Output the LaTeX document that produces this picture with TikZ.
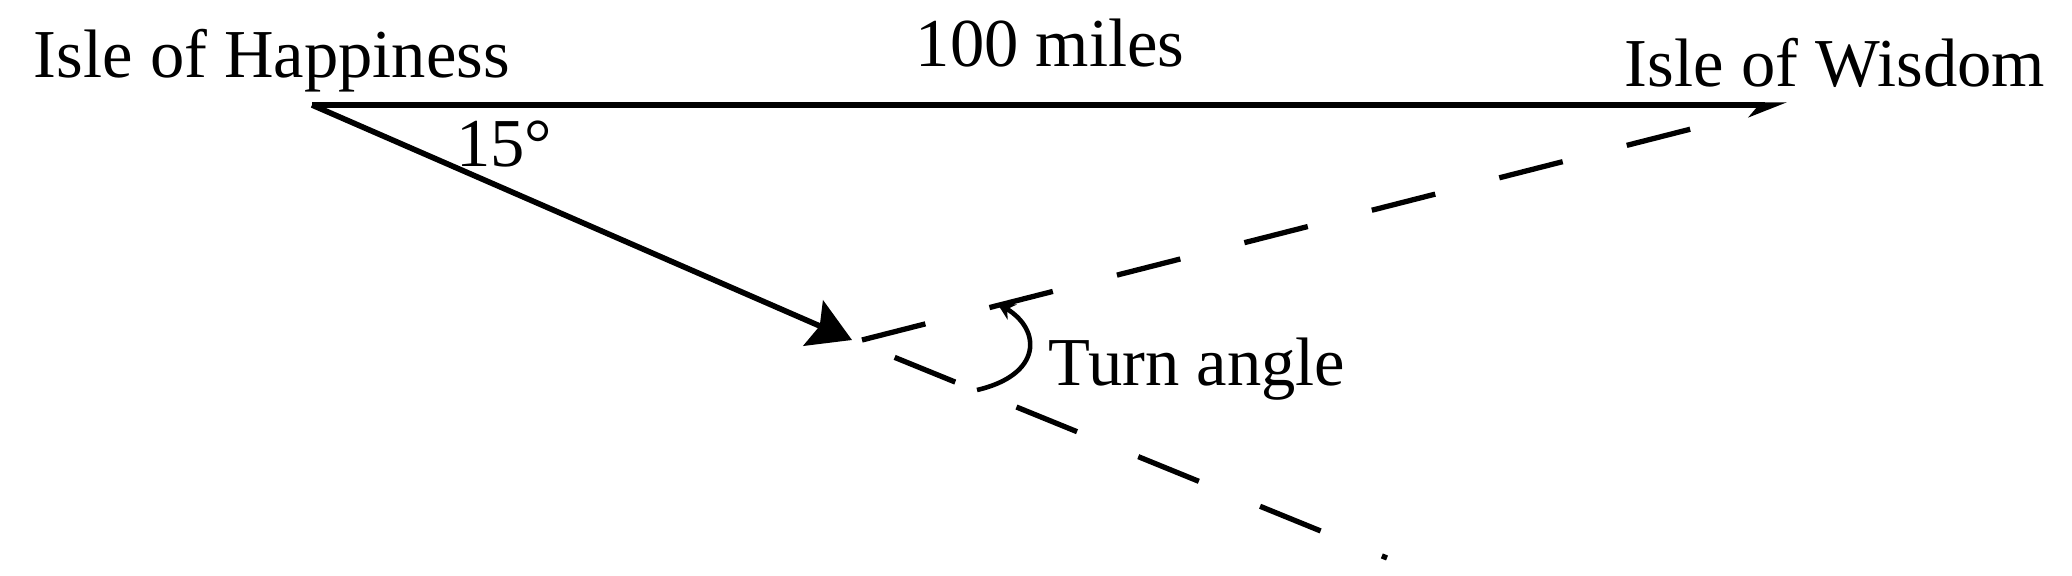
\documentclass[tikz,border=0pt]{standalone}
\usepackage{fontspec}
\setmainfont{Liberation Serif}
\usepackage{tikz}
\usetikzlibrary{arrows.meta}

\begin{document}
\begin{tikzpicture}
[x=0.01cm, y=-0.01cm,
 place/.style={anchor=base,inner sep=0pt,font=\fontsize{19.5}{23}\selectfont},
 course/.style={line width=1.6pt},
 track/.style={line width=1.5pt, dash pattern=on 18.6pt off 18.8pt},
 turn/.style={line width=1.3pt, -{Stealth[length=5pt,width=5pt]}}]
\useasboundingbox (0,0) rectangle (2072,576);
\coordinate (H)     at ( 312, 105);
\coordinate (W)     at (1787, 105);
\coordinate (T)     at ( 852, 340);
\coordinate (Tout)  at ( 862, 340);
\coordinate (Wend)  at (1695, 128);
\coordinate (Tend)  at (1387, 558);
\coordinate (arcA)  at ( 977, 390);
\coordinate (arcB)  at ( 997, 303);
\node[place] (happy) at ( 272,  78) {Isle of Happiness};
\node[place] (dist)  at (1050,  67) {100 miles};
\node[place] (wise)  at (1835,  87) {Isle of Wisdom};
\node[place] (deg)   at ( 504, 167) {15°};
\node[place] (turnl) at (1197, 385) {Turn angle};
\path (H)    edge[course,-{Stealth[length=9pt,width=7pt,harpoon,swap]}] (W)
      (H)    edge[course,-{Stealth[length=12pt,width=14pt,inset=2pt]}] (T)
      (Tout) edge[track] (Wend)
      (T)    edge[track,dash phase=24.3pt] (Tend);
\draw[turn] (arcA) .. controls (1042,375) and (1042,330) .. (arcB);
\end{tikzpicture}
\end{document}
